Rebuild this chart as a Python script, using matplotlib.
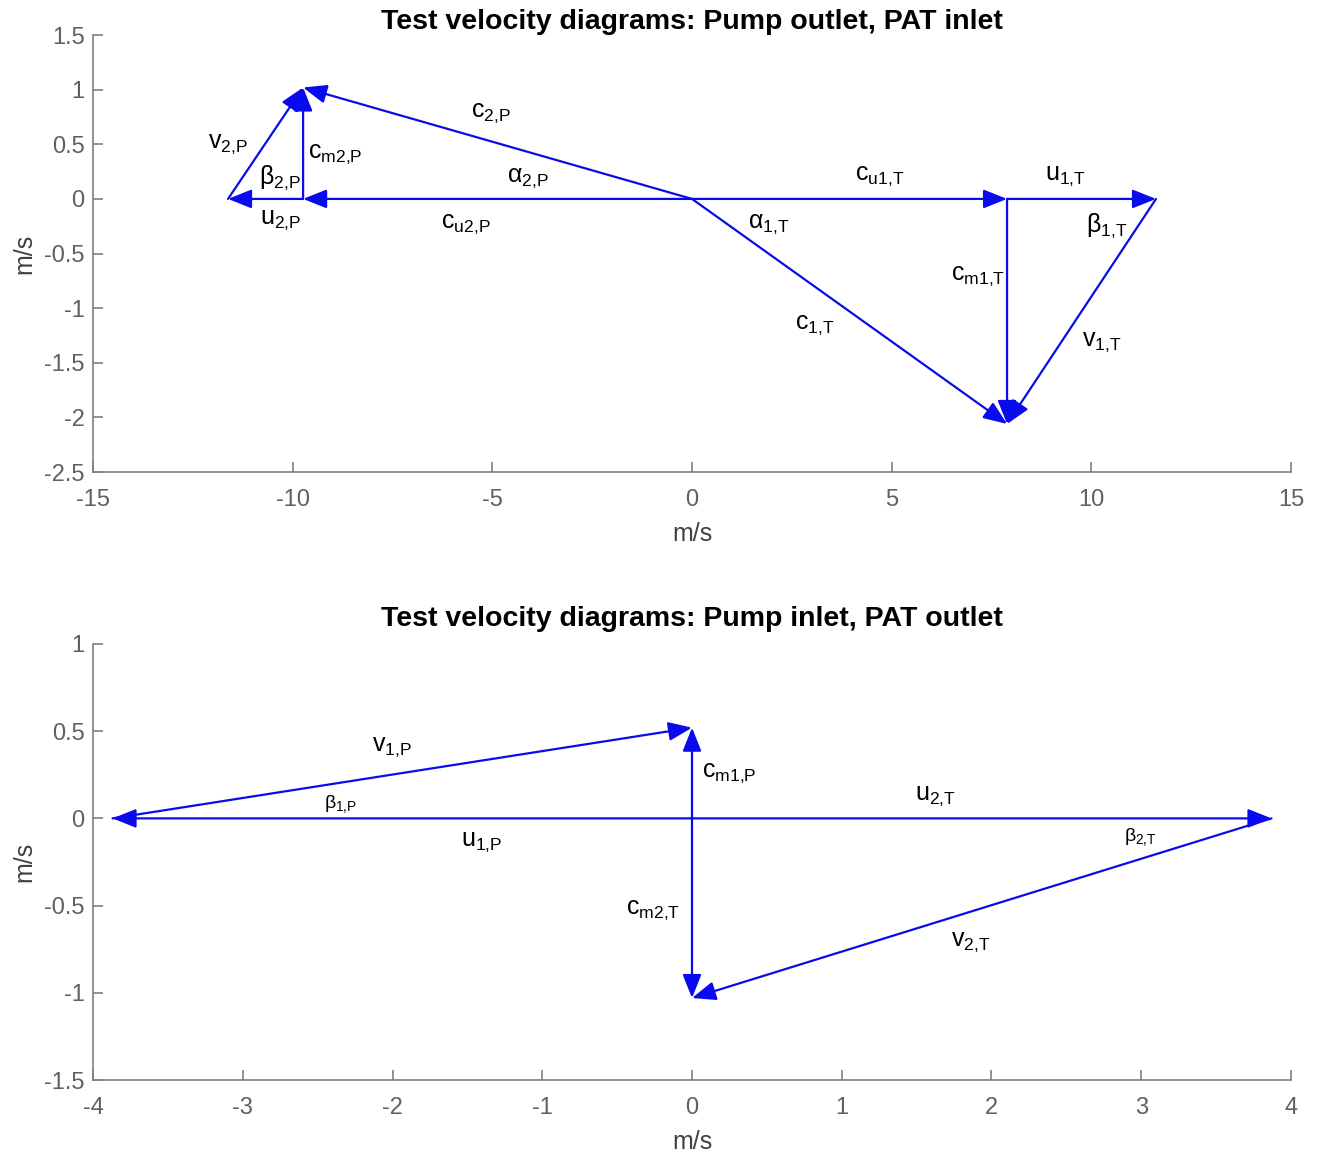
import matplotlib
matplotlib.use('Agg')
import matplotlib.pyplot as plt

plt.rcParams['font.family'] = ['Liberation Sans', 'DejaVu Sans']
plt.rcParams['mathtext.fontset'] = 'custom'
plt.rcParams['mathtext.rm'] = 'Liberation Sans'
plt.rcParams['mathtext.it'] = 'Liberation Sans:italic'
plt.rcParams['mathtext.bf'] = 'Liberation Sans:bold'

# ---- top diagram: pump outlet / PAT inlet (m/s) ----
# order: cu2P, u2P, c2P, cm2P, v2P, cu1T, u1T, c1T, cm1T, v1T
top_tail_x = [0.0, -9.74, 0.0, -9.74, -11.62, 0.0, 7.89, 0.0, 7.89, 11.62]
top_tail_y = [0.0, 0.0, 0.0, 0.0, 0.0, 0.0, 0.0, 0.0, 0.0, 0.0]
top_head_x = [-9.74, -11.62, -9.74, -9.74, -9.74, 7.89, 11.62, 7.89, 7.89, 7.89]
top_head_y = [0.0, 0.0, 1.02, 1.02, 1.02, 0.0, 0.0, -2.06, -2.06, -2.06]

top_labels = ['v', 'c', 'β', 'u', 'c', 'α', 'c', 'c', 'u', 'α', 'β', 'c', 'c', 'v']
top_subs = ['2,P', 'm2,P', '2,P', '2,P', '2,P', '2,P', 'u2,P',
            'u1,T', '1,T', '1,T', '1,T', 'm1,T', '1,T', '1,T']
top_lab_x = [-12.12, -9.62, -10.84, -10.82, -5.53, -4.63, -6.28,
             4.08, 8.84, 1.40, 9.87, 6.49, 2.58, 9.77]
top_lab_y = [0.50, 0.41, 0.19, -0.19, 0.79, 0.19, -0.23,
             0.21, 0.21, -0.23, -0.25, -0.71, -1.15, -1.31]

# ---- bottom diagram: pump inlet / PAT outlet (m/s) ----
# order: u1P, v1P, cm1P, u2T, cm2T, v2T
bot_tail_x = [0.0, -3.87, 0.0, 0.0, 0.0, 3.87]
bot_tail_y = [0.0, 0.0, 0.0, 0.0, 0.0, 0.0]
bot_head_x = [-3.87, 0.0, 0.0, 3.87, 0.0, 0.0]
bot_head_y = [0.0, 0.52, 0.52, 0.0, -1.03, -1.03]

bot_labels = ['v', 'β', 'u', 'c', 'u', 'β', 'c', 'v']
bot_subs = ['1,P', '1,P', '1,P', 'm1,P', '2,T', '2,T', 'm2,T', '2,T']
bot_lab_x = [-2.14, -2.46, -1.54, 0.07, 1.49, 2.885, -0.44, 1.73]
bot_lab_y = [0.41, 0.08, -0.136, 0.26, 0.128, -0.105, -0.526, -0.71]
bot_lab_size = [18, 14, 18, 18, 18, 14, 18, 18]

gray = '#7f7f7f'
tickgray = '#606060'


def label(sym, sub):
    sub = sub.replace(',', '{,}')
    return r'$\mathrm{' + sym + r'}_{\mathrm{' + sub + '}}$'


def draw_arrows(ax, tx, ty, hx, hy):
    for i in range(len(tx)):
        ax.annotate('', xy=(hx[i], hy[i]), xytext=(tx[i], ty[i]),
                    arrowprops=dict(arrowstyle='-|>,head_length=0.6,head_width=0.24',
                                    mutation_scale=24, lw=1.6, color='#0a0aee',
                                    shrinkA=0, shrinkB=0))


def style_axes(ax, title, pad):
    for s in ['top', 'right']:
        ax.spines[s].set_visible(False)
    for s in ['left', 'bottom']:
        ax.spines[s].set_color(gray)
        ax.spines[s].set_linewidth(1.2)
    ax.tick_params(direction='in', length=7, width=1.2, color=gray,
                   labelcolor=tickgray, labelsize=17)
    ax.tick_params(axis='x', pad=12)
    ax.tick_params(axis='y', pad=6)
    ax.set_xlabel('m/s', fontsize=18, color='#404040', labelpad=8)
    ax.set_ylabel('m/s', fontsize=18, color='#404040', labelpad=6)
    ax.set_title(title, fontsize=20.5, fontweight='bold', pad=pad)


fig = plt.figure(figsize=(13.2, 11.53), dpi=100)
ax1 = fig.add_axes([0.0705, 0.5906, 0.9075, 0.379])
ax2 = fig.add_axes([0.0705, 0.0633, 0.9075, 0.3782])

draw_arrows(ax1, top_tail_x, top_tail_y, top_head_x, top_head_y)
for i in range(len(top_labels)):
    ax1.text(top_lab_x[i], top_lab_y[i], label(top_labels[i], top_subs[i]),
             fontsize=18, ha='left', va='center')
ax1.set_xlim(-15, 15)
ax1.set_ylim(-2.5, 1.5)
ax1.set_xticks([-15, -10, -5, 0, 5, 10, 15])
ax1.set_yticks([-2.5, -2, -1.5, -1, -0.5, 0, 0.5, 1, 1.5])
ax1.set_yticklabels(['-2.5', '-2', '-1.5', '-1', '-0.5', '0', '0.5', '1', '1.5'])
ax1.set_xticklabels(['-15', '-10', '-5', '0', '5', '10', '15'])
style_axes(ax1, 'Test velocity diagrams: Pump outlet, PAT inlet', 1.5)

draw_arrows(ax2, bot_tail_x, bot_tail_y, bot_head_x, bot_head_y)
for i in range(len(bot_labels)):
    ax2.text(bot_lab_x[i], bot_lab_y[i], label(bot_labels[i], bot_subs[i]),
             fontsize=bot_lab_size[i], ha='left', va='center')
ax2.set_xlim(-4, 4)
ax2.set_ylim(-1.5, 1)
ax2.set_xticks([-4, -3, -2, -1, 0, 1, 2, 3, 4])
ax2.set_xticklabels(['-4', '-3', '-2', '-1', '0', '1', '2', '3', '4'])
ax2.set_yticks([-1.5, -1, -0.5, 0, 0.5, 1])
ax2.set_yticklabels(['-1.5', '-1', '-0.5', '0', '0.5', '1'])
style_axes(ax2, 'Test velocity diagrams: Pump inlet, PAT outlet', 13)

fig.savefig('out.png', dpi=100)
